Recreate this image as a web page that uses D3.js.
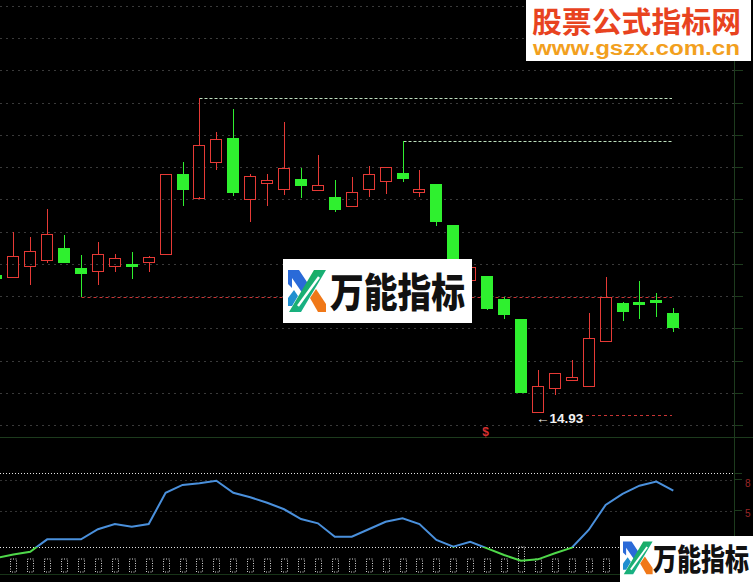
<!DOCTYPE html>
<html><head><meta charset="utf-8">
<script src="https://cdn.jsdelivr.net/npm/d3@7"></script>
<style>html,body{margin:0;padding:0;background:#000;overflow:hidden}</style>
</head><body>
<svg id="chart" width="753" height="582"></svg>
<script>
// ---------- data ----------
const idx   = d3.range(-1, 40);
const open  = [17.08,17.05,17.21,17.30,17.50,17.19,17.14,17.21,17.25,17.28,17.41,18.65,18.28,18.83,19.20,18.26,18.50,18.41,18.56,18.40,18.28,18.14,18.41,18.54,18.66,18.36,18.49,17.86,17.00,17.06,16.70,16.39,14.95,15.32,15.44,15.36,16.06,16.65,16.66,16.69,16.49];
const high  = [17.11,17.75,17.66,18.10,17.70,17.39,17.59,17.40,17.44,17.37,18.65,18.83,19.82,19.30,19.65,18.65,18.65,19.45,18.73,18.94,18.55,18.60,18.77,18.75,19.16,18.71,18.49,17.86,17.28,17.06,16.74,16.39,15.60,15.55,15.76,16.48,17.04,16.66,16.98,16.79,16.56];
const low   = [17.00,17.04,16.92,17.26,17.26,16.74,16.92,17.13,17.02,17.13,17.39,18.15,18.27,18.71,18.31,17.90,18.14,18.32,18.27,18.40,18.06,18.14,18.28,18.34,18.52,18.28,17.84,17.12,16.92,16.53,16.39,15.25,14.93,15.22,15.44,15.36,16.04,16.36,16.39,16.43,16.20];
const close = [17.03,17.37,17.45,17.71,17.29,17.11,17.40,17.34,17.22,17.35,18.65,18.41,19.10,19.19,18.37,18.62,18.55,18.74,18.46,18.48,18.10,18.36,18.64,18.75,18.59,18.41,17.92,17.19,17.20,16.57,16.46,15.25,15.36,15.55,15.49,16.10,16.74,16.52,16.63,16.66,16.27];
const osc   = [11,14,16.2,26.2,26.2,26.2,34.4,38.6,36.5,38.6,64.0,70.3,71.6,73.7,64.0,60.3,55.9,50.6,42.7,39.2,28.3,28.3,34.4,40.5,43.3,38.6,25.7,20.3,24.3,18.9,13.5,8.9,10.0,14.9,19.4,33.8,54.1,63.0,69.7,73.0,65.7];
const markH = [13,13,13,13,13,13,13,13,13,13,13,13,13,13,13,13,13,13,13,13,13,13,13,13,13,13,13,13,13,13,13,25,13,13,13,13,13,13,13,13,13];
const priceGrid = [14.75,15.25,15.75,16.25,16.75,17.25,17.75,18.25,18.75,19.25,19.75,20.25,20.75,21.25];
const oscGrid = [75, 50];
const oscLevels = [20, 80];
const oscTickLabels = ["8", "5"];
const refHighA = {from: 11, value: 19.82};
const refHighB = {from: 23, value: 19.16};
const refLowA  = {from: 4,  value: 16.74};
const refLowB  = {from: 31, value: 14.93};
const markS = {i: 27, text: "$"};

// ---------- setup ----------
const svg = d3.select("#chart");
const RED = "#e63a36", GREEN = "#2ff02f", GRID = "#3a3a3a", AXIS = "#1d3b1d";
svg.append("rect").attr("width",753).attr("height",582).attr("fill","#000");

const x  = d3.scaleLinear().domain([-1, 39]).range([-3.6, 673.3]);
const y  = d3.scaleLinear().domain([14.75, 21.25]).range([425, 6]);
const yo = d3.scaleLinear().domain([20, 80]).range([547, 473]);
const px = v => Math.round(v) + 0.5;

// grid main
svg.append("g").selectAll("line").data(priceGrid).join("line")
  .attr("x1",0).attr("x2",734).attr("y1",d=>px(y(d))).attr("y2",d=>px(y(d)))
  .attr("stroke",GRID).attr("stroke-dasharray","2,4");
svg.append("g").selectAll("line").data(priceGrid).join("line")
  .attr("x1",734).attr("x2",743).attr("y1",d=>px(y(d))).attr("y2",d=>px(y(d)))
  .attr("stroke",AXIS);
svg.append("line").attr("x1",734.5).attr("x2",734.5).attr("y1",0).attr("y2",582).attr("stroke",AXIS);
svg.append("line").attr("x1",0).attr("x2",753).attr("y1",437.5).attr("y2",437.5).attr("stroke",AXIS);
svg.append("line").attr("x1",0).attr("x2",734).attr("y1",574.5).attr("y2",574.5).attr("stroke","#183418");

// reference dashed lines
const refEnd = 672;
const HI = "#bfe0bf", LO = "#c83434";
svg.append("line").attr("x1",px(x(refHighA.from))).attr("x2",refEnd).attr("y1",px(y(refHighA.value))).attr("y2",px(y(refHighA.value)))
  .attr("stroke",HI).attr("stroke-dasharray","3,2");
svg.append("line").attr("x1",px(x(refHighB.from))).attr("x2",refEnd).attr("y1",px(y(refHighB.value))).attr("y2",px(y(refHighB.value)))
  .attr("stroke",HI).attr("stroke-dasharray","3,2");
svg.append("line").attr("x1",px(x(refHighB.from))).attr("x2",px(x(refHighB.from))).attr("y1",px(y(refHighB.value))).attr("y2",px(y(high[refHighB.from+1])))
  .attr("stroke",HI);
svg.append("line").attr("x1",px(x(refLowA.from))).attr("x2",refEnd).attr("y1",px(y(refLowA.value))).attr("y2",px(y(refLowA.value)))
  .attr("stroke",LO).attr("stroke-dasharray","3,3");
svg.append("line").attr("x1",586).attr("x2",refEnd).attr("y1",px(y(refLowB.value))+2).attr("y2",px(y(refLowB.value))+2)
  .attr("stroke",LO).attr("stroke-dasharray","3,3");

// candles
const candles = idx.map((i,k)=>({i, o:open[k], h:high[k], l:low[k], c:close[k]}));
const cg = svg.append("g").attr("shape-rendering","crispEdges");
candles.forEach(d=>{
  const cx = px(x(d.i));
  const up = d.c > d.o;
  const top = y(Math.max(d.o,d.c)), bot = y(Math.min(d.o,d.c));
  const col = up ? RED : GREEN;
  if (up) {
    cg.append("line").attr("x1",cx).attr("x2",cx).attr("y1",y(d.h)).attr("y2",top).attr("stroke",col);
    cg.append("line").attr("x1",cx).attr("x2",cx).attr("y1",bot).attr("y2",y(d.l)).attr("stroke",col);
    cg.append("rect").attr("x",cx-6).attr("y",Math.round(top)+0.5).attr("width",11).attr("height",Math.max(1,Math.round(bot-top)))
      .attr("fill","none").attr("stroke",col);
  } else {
    cg.append("line").attr("x1",cx).attr("x2",cx).attr("y1",y(d.h)).attr("y2",y(d.l)).attr("stroke",col);
    cg.append("rect").attr("x",cx-6).attr("y",Math.round(top)+0.5).attr("width",11).attr("height",Math.max(1,Math.round(bot-top)))
      .attr("fill",col).attr("stroke",col);
  }
});

// low label
svg.append("text").attr("x",536).attr("y",px(y(refLowB.value))+9)
  .attr("fill","#f2f2f2").attr("font-family","Liberation Sans, Arial, sans-serif").attr("font-weight","bold").attr("font-size",13.5)
  .text("←" + refLowB.value.toFixed(2));

// S marker
svg.append("text").attr("x",px(x(markS.i))+15).attr("y",436).attr("text-anchor","middle")
  .attr("fill","#d83030").attr("font-family","Liberation Sans, Arial, sans-serif").attr("font-weight","bold").attr("font-size",12)
  .text(markS.text);

// lower panel grid
svg.append("g").selectAll("line").data(oscGrid).join("line")
  .attr("x1",0).attr("x2",734).attr("y1",d=>px(yo(d))+1).attr("y2",d=>px(yo(d))+1)
  .attr("stroke","#333").attr("stroke-dasharray","2,3");
svg.append("g").selectAll("line").data(oscLevels).join("line")
  .attr("x1",0).attr("x2",734).attr("y1",d=>px(yo(d))).attr("y2",d=>px(yo(d)))
  .attr("stroke","#e6e6e6").attr("stroke-dasharray","1,2");
svg.append("g").selectAll("line").data([80,75,50,20]).join("line")
  .attr("x1",734).attr("x2",742).attr("y1",d=>px(yo(d))).attr("y2",d=>px(yo(d))).attr("stroke",AXIS);

// dotted marks
svg.append("g").selectAll("rect").data(idx.map((i,k)=>({i,h:markH[k]}))).join("rect")
  .attr("x",d=>px(x(d.i))-3).attr("y",d=>572-d.h).attr("width",6).attr("height",d=>d.h)
  .attr("fill","none").attr("stroke","#d6d6d6").attr("stroke-width",1).attr("stroke-dasharray","1,1.5");

// oscillator line split by level 20
const defs = svg.append("defs");
defs.append("clipPath").attr("id","above").append("rect").attr("x",0).attr("y",438).attr("width",734).attr("height",yo(20)-438);
defs.append("clipPath").attr("id","below").append("rect").attr("x",0).attr("y",yo(20)).attr("width",734).attr("height",582-yo(20));
const oscLine = d3.line().x((d,k)=>x(idx[k])).y(d=>yo(d));
svg.append("path").attr("d",oscLine(osc)).attr("fill","none").attr("stroke","#4a90dc").attr("stroke-width",2).attr("clip-path","url(#above)");
svg.append("path").attr("d",oscLine(osc)).attr("fill","none").attr("stroke","#4fd84a").attr("stroke-width",2).attr("clip-path","url(#below)");

// right labels
svg.append("g").selectAll("text").data(oscTickLabels).join("text")
  .attr("x",745).attr("y",(d,k)=>[487,517][k]).attr("fill","#9a2626").attr("font-size",10)
  .attr("font-family","Liberation Sans, sans-serif").text(d=>d);

// ---------- watermarks ----------
function logo(g, s){
  const grad = defs.append("linearGradient").attr("id","lg"+s).attr("x1","0").attr("y1","0").attr("x2","1").attr("y2","1");
  grad.append("stop").attr("offset","0").attr("stop-color","#1aa83a");
  grad.append("stop").attr("offset","1").attr("stop-color","#17b6b0");
  g.append("path").attr("d","M0,2 L11,2 L21,17 L15,26 L4,10 L4,20 L0,16 Z").attr("fill","#2a6ad8");
  g.append("path").attr("d","M26,2 L38,2 L13,44 L1,44 Z").attr("fill","url(#lg"+s+")");
  g.append("path").attr("d","M22,30 L28,21 L38,36 L38,44 L30,44 Z").attr("fill","#f07818");
  g.append("path").attr("d","M0,30 L6,22 L10,28 L4,38 L0,38 Z").attr("fill","#1f8fd0");
  g.append("line").attr("x1",31).attr("y1",9).attr("x2",10).attr("y2",38).attr("stroke","#fff").attr("stroke-width",2.4);
}
// top right
svg.append("rect").attr("x",526).attr("y",0).attr("width",225).attr("height",61).attr("fill","#fff");
svg.append("text").attr("x",532).attr("y",33).attr("fill","#e8431f").attr("font-size",29).attr("font-weight","bold")
  .attr("font-family","Noto Sans CJK SC, sans-serif").attr("textLength",209).attr("lengthAdjust","spacingAndGlyphs").text("股票公式指标网");
svg.append("text").attr("x",533).attr("y",55).attr("fill","#f2a01e").attr("font-size",20).attr("font-weight","bold")
  .attr("font-family","Liberation Sans, Arial, sans-serif").attr("textLength",207).attr("lengthAdjust","spacingAndGlyphs").text("www.gszx.com.cn");
// middle
svg.append("rect").attr("x",283).attr("y",259).attr("width",189).attr("height",64).attr("fill","#fff");
logo(svg.append("g").attr("transform","translate(288,268)"), "a");
svg.append("text").attr("transform","translate(330,307) scale(1,1.18)").attr("fill","#111").attr("font-size",34).attr("font-weight","900")
  .attr("font-family","Noto Sans CJK SC, sans-serif").attr("textLength",135).attr("lengthAdjust","spacingAndGlyphs").text("万能指标");
// bottom right
svg.append("rect").attr("x",620).attr("y",536).attr("width",133).attr("height",46).attr("fill","#fff");
logo(svg.append("g").attr("transform","translate(623,540) scale(0.78)"), "b");
svg.append("text").attr("transform","translate(653,570) scale(1,1.22)").attr("fill","#111").attr("font-size",24).attr("font-weight","900")
  .attr("font-family","Noto Sans CJK SC, sans-serif").attr("textLength",96).attr("lengthAdjust","spacingAndGlyphs").text("万能指标");
</script>
</body></html>
